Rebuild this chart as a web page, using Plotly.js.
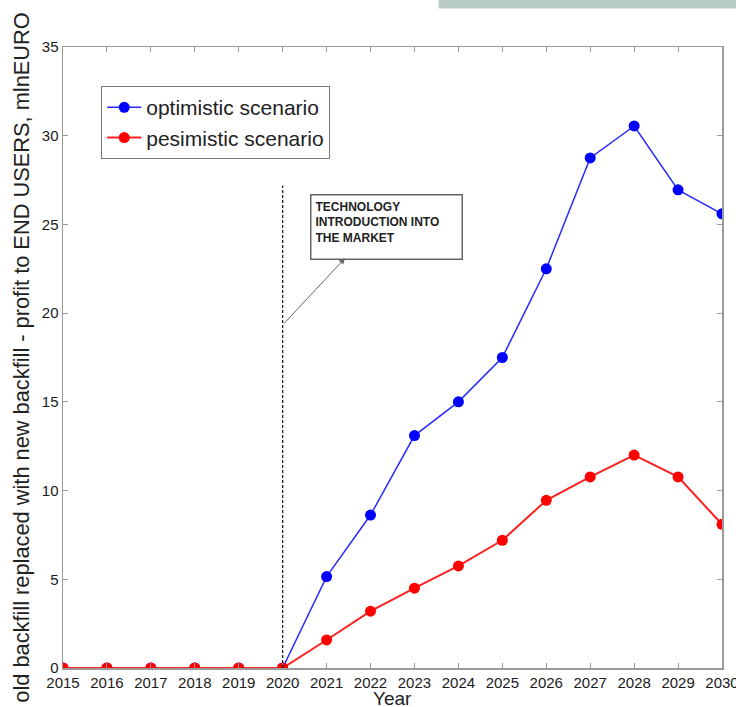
<!DOCTYPE html>
<html>
<head>
<meta charset="utf-8">
<script src="https://cdn.plot.ly/plotly-3.0.1.min.js"></script>
<style>html,body{margin:0;padding:0;background:#fff;}#chart{width:736px;height:707px;}</style>
</head>
<body>
<div id="chart"></div>
<script>
var years = [2015,2016,2017,2018,2019,2020,2021,2022,2023,2024,2025,2026,2027,2028,2029,2030];
var optimistic = [0,0,0,0,0,0,5.15,8.62,13.1,15.0,17.5,22.5,28.75,30.55,26.95,25.6];
var pessimistic = [0,0,0,0,0,0,1.58,3.2,4.5,5.75,7.2,9.45,10.77,12.0,10.77,8.1];
var tickLabels = years.map(String);
var yTicks = [0,5,10,15,20,25,30,35];
var xTitle = 'Year';
var yTitle = 'old backfill replaced with new backfill - profit to END USERS, mlnEURO';

var traces = [
  {x: years, y: optimistic, name: 'optimistic scenario', type: 'scatter', mode: 'lines+markers',
   line: {color: '#2a2aff', width: 1.5}, marker: {color: '#0000ff', size: 11}},
  {x: years, y: pessimistic, name: 'pesimistic scenario', type: 'scatter', mode: 'lines+markers',
   line: {color: '#ff2020', width: 2}, marker: {color: '#ff0000', size: 11}}
];

var FONT = 'Arial, Liberation Sans, sans-serif';
var axisCommon = {
  showgrid: false, zeroline: false, showline: true, linecolor: '#9a9a9a', linewidth: 1.5,
  mirror: 'ticks', ticks: 'inside', ticklen: 5, tickcolor: '#9a9a9a', tickwidth: 1,
  ticklabeloverflow: 'allow', automargin: false,
  tickfont: {family: FONT, size: 15, color: '#1a1a1a'}
};

var layout = {
  width: 736, height: 707,
  margin: {l: 63, r: 14, t: 47, b: 39},
  paper_bgcolor: '#fff', plot_bgcolor: '#fff',
  showlegend: true,
  legend: {x: 0.058, y: 0.937, xanchor: 'left', yanchor: 'top', bgcolor: '#fff',
           bordercolor: '#777', borderwidth: 1,
           font: {family: FONT, size: 21, color: '#222'},
           tracegroupgap: 0, itemwidth: 34},
  xaxis: Object.assign({}, axisCommon, {
    range: [2015, 2030], tickmode: 'array', tickvals: years, ticktext: tickLabels
  }),
  yaxis: Object.assign({}, axisCommon, {
    range: [0, 35], tickmode: 'array', tickvals: yTicks, ticktext: yTicks.map(String),
    title: {text: yTitle, standoff: 6, font: {family: FONT, size: 21.8, color: '#222'}}
  }),
  shapes: [
    {type: 'line', xref: 'x', yref: 'y', x0: 2020, x1: 2020, y0: 0, y1: 27.2,
     line: {color: '#111', width: 1.2, dash: '3px,2px'}},
    {type: 'rect', xref: 'paper', yref: 'paper', x0: 0.57, x1: 1.03, y0: 1.062, y1: 1.09,
     fillcolor: '#b9cbc6', line: {width: 0}, layer: 'below'}
  ],
  annotations: [
    {xref: 'paper', yref: 'paper', x: 0.5, y: -0.049, xanchor: 'center', yanchor: 'middle',
     text: xTitle, showarrow: false, font: {family: FONT, size: 19, color: '#222'}},
    {xref: 'x', yref: 'y', x: 2020.62, y: 26.7, xanchor: 'left', yanchor: 'top',
     text: '<b>TECHNOLOGY<br>INTRODUCTION INTO<br>THE MARKET</b>', showarrow: false, align: 'left',
     font: {family: FONT, size: 12, color: '#222'},
     bordercolor: '#666', borderwidth: 1.5, borderpad: 4, bgcolor: '#fff', width: 142, height: 55, valign: 'top'},
    {xref: 'x', yref: 'y', x: 2021.42, y: 23.1, axref: 'x', ayref: 'y', ax: 2020.0, ay: 19.33,
     text: '', showarrow: true, arrowhead: 2, arrowsize: 1.2, arrowwidth: 1, arrowcolor: '#666'}
  ]
};

Plotly.newPlot('chart', traces, layout, {displayModeBar: false, staticPlot: true});
</script>
</body>
</html>
